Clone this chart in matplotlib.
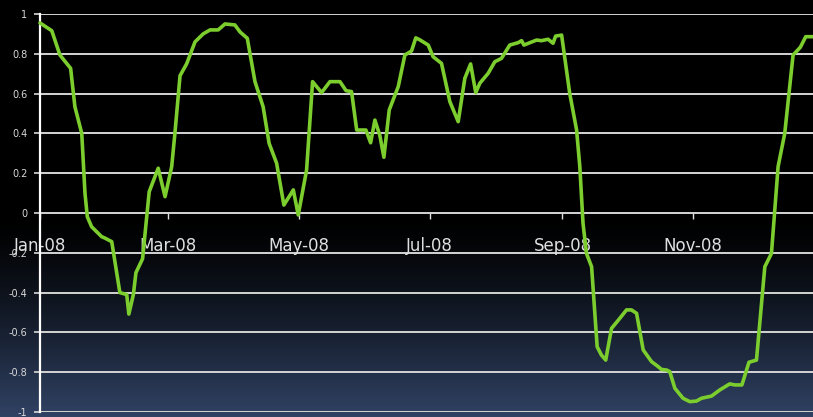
import numpy as np
import matplotlib
matplotlib.use("Agg")
import matplotlib.pyplot as plt
import matplotlib.dates as mdates

# days since 1 Jan 2008 and the correlation value
days = [0, 5.5, 9.3, 14.3, 16.3, 19.5, 21.0, 22.1, 24.1, 28.8, 30.3, 33.5,
        37.3, 40.5, 41.5, 43.6, 44.8, 47.9, 51.0, 55.2, 58.4, 61.5, 63.0,
        65.4, 68.5, 72.4, 76.2, 79.4, 83.2, 86.4, 91.0, 93.4, 96.8, 100.4,
        104.2, 107.0, 110.5, 113.9, 118.3, 120.6, 124.5, 127.3, 131.5, 135.4,
        140.1, 142.9, 145.5, 147.9, 152.2, 154.4, 156.4, 158.7, 160.6, 163.1,
        167.3, 170.4, 173.5, 175.5, 177.4, 181.3, 183.6, 187.5, 191.4, 195.3,
        198.4, 201.1, 203.5, 205.4, 209.3, 212.4, 215.5, 219.4, 223.3, 224.9,
        226.0, 231.9, 234.2, 237.3, 239.6, 240.8, 243.6, 247.4, 250.6, 252.1,
        253.6, 255.2, 257.6, 260.2, 262.2, 264.2, 266.9, 270.8, 273.9, 276.2,
        278.6, 281.7, 285.6, 288.7, 290.2, 292.6, 294.1, 296.5, 300.3, 303.5,
        306.6, 308.9, 313.6, 317.5, 322.1, 324.5, 327.8, 331.1, 334.6, 338.5,
        341.6, 344.7, 347.8, 351.7, 355.1, 357.6, 362.0]
values = [0.955, 0.916, 0.794, 0.727, 0.534, 0.40, 0.10, -0.019, -0.069,
          -0.119, -0.126, -0.144, -0.40, -0.41, -0.508, -0.41, -0.30, -0.23,
          0.107, 0.225, 0.082, 0.233, 0.40, 0.69, 0.75, 0.86, 0.90, 0.92,
          0.92, 0.95, 0.945, 0.91, 0.878, 0.66, 0.534, 0.35, 0.25, 0.04,
          0.116, -0.01, 0.216, 0.66, 0.605, 0.66, 0.66, 0.615, 0.61, 0.417,
          0.417, 0.353, 0.467, 0.39, 0.28, 0.518, 0.635, 0.794, 0.814, 0.88,
          0.87, 0.844, 0.785, 0.752, 0.56, 0.459, 0.677, 0.749, 0.605, 0.652,
          0.702, 0.76, 0.777, 0.844, 0.856, 0.866, 0.844, 0.869, 0.866, 0.873,
          0.853, 0.889, 0.894, 0.60, 0.417, 0.233, -0.052, -0.203, -0.27,
          -0.672, -0.714, -0.739, -0.58, -0.529, -0.487, -0.487, -0.504,
          -0.688, -0.747, -0.772, -0.786, -0.789, -0.797, -0.881, -0.931,
          -0.948, -0.945, -0.931, -0.92, -0.889, -0.859, -0.864, -0.864,
          -0.75, -0.739, -0.27, -0.203, 0.233, 0.40, 0.794, 0.833, 0.886,
          0.886]

month_ticks = ["2008-01-01", "2008-03-01", "2008-05-01",
               "2008-07-01", "2008-09-01", "2008-11-01"]
y_ticks = [-1, -0.8, -0.6, -0.4, -0.2, 0, 0.2, 0.4, 0.6, 0.8, 1]
y_labels = ["-1", "-0.8", "-0.6", "-0.4", "-0.2", "0", "0.2", "0.4",
            "0.6", "0.8", "1"]

start = np.datetime64("2008-01-01T00:00")
dates = start + (np.array(days) * 24 * 60).astype("timedelta64[m]")

fig = plt.figure(figsize=(8.13, 4.17), dpi=100)

# background: black on top fading to dark blue at the bottom
bg = fig.add_axes([0, 0, 1, 1])
t = np.linspace(0, 1, 400)
ramp = np.clip((t - 0.52) / 0.48, 0, 1) ** 1.3
top = np.array([0, 0, 0])
bot = np.array([48, 66, 100]) / 255
grad = top[None, :] * (1 - ramp[:, None]) + bot[None, :] * ramp[:, None]
bg.imshow(grad[:, None, :], aspect="auto", extent=[0, 1, 0, 1])
bg.axis("off")

ax = fig.add_axes([40 / 813, 1 - 412 / 417, 1 - 40 / 813, 398 / 417])
ax.patch.set_alpha(0)

for yv in y_ticks:
    ax.axhline(yv, color="#d4d4d4", lw=1.4, zorder=1)

ax.plot(dates, values, color="#7cce2e", lw=2.6, zorder=3,
        solid_joinstyle="round", solid_capstyle="round", clip_on=False)

ax.set_ylim(-1, 1)
ax.set_xlim(start, start + np.timedelta64(361, "D"))
ax.set_yticks(y_ticks)
ax.set_yticklabels(y_labels)
ax.tick_params(axis="y", colors="#d8d8d8", labelsize=7, length=4,
               width=1.2, pad=5)

ax.set_xticks([np.datetime64(d) for d in month_ticks])
ax.xaxis.set_major_formatter(mdates.DateFormatter("%b-%y"))
ax.spines["bottom"].set_position(("data", 0))
ax.spines["bottom"].set_visible(False)
ax.tick_params(axis="x", colors="#e0e0e0", labelsize=12, length=4,
               width=1, pad=13, direction="out")
for lbl in ax.get_xticklabels():
    lbl.set_zorder(4)

for s in ["top", "right"]:
    ax.spines[s].set_visible(False)
ax.spines["left"].set_color("white")
ax.spines["left"].set_linewidth(1.6)

fig.savefig("out.png", dpi=100)
